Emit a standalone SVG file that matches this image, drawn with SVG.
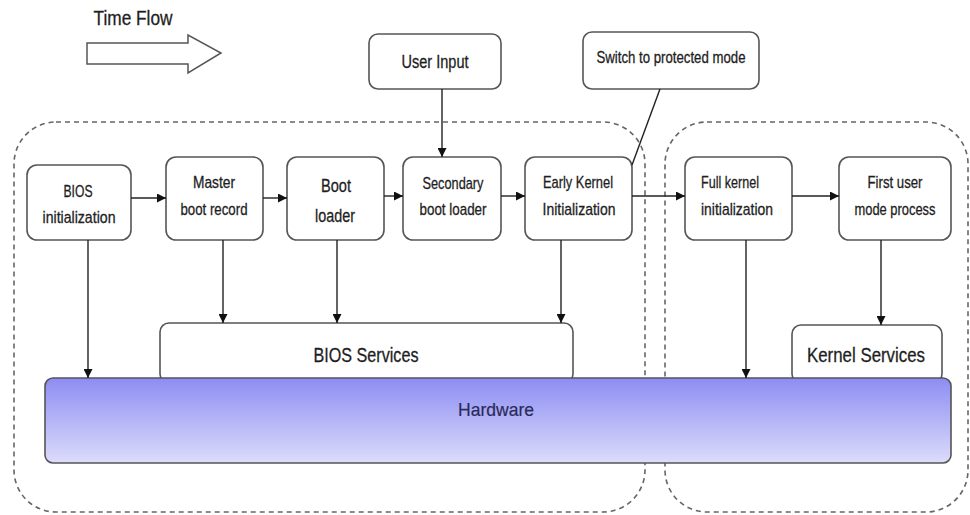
<svg xmlns="http://www.w3.org/2000/svg" width="970" height="515" viewBox="0 0 970 515">
<style>
.box{fill:#fff;stroke:#555;stroke-width:1.6}
.region{fill:none;stroke:#666;stroke-width:1.6;stroke-dasharray:5,4}
.t{font-family:"Liberation Sans",Arial,sans-serif;font-size:17px;fill:#1e1e1e;stroke:#1e1e1e;stroke-width:0.3;text-anchor:middle}
.s{text-anchor:start}
.big{font-size:21px}
.con{stroke:#222;stroke-width:1.4;fill:none}
</style>
<defs>
<marker id="ah" viewBox="0 0 10 10" refX="10" refY="5" markerWidth="9" markerHeight="9" markerUnits="userSpaceOnUse" orient="auto">
<path d="M0,0 L10,5 L0,10 z" fill="#111"/>
</marker>
<linearGradient id="hw" x1="0" y1="0" x2="0" y2="1">
<stop offset="0" stop-color="#8d8df3"/>
<stop offset="1" stop-color="#dcdcfb"/>
</linearGradient>
</defs>

<g id="time-flow">
<text class="t" x="133" y="25" style="font-size:21px" textLength="79" lengthAdjust="spacingAndGlyphs">Time Flow</text>
<path d="M87,43 H188 V35 L221,53 L188,73 V64 H87 Z" fill="#fff" stroke="#555" stroke-width="1.5"/>
</g>

<g id="regions">
<rect class="region" x="14" y="122" width="631" height="390" rx="42"/>
<rect class="region" x="665" y="122" width="303" height="390" rx="42"/>
</g>

<g id="user-input"><rect class="box" x="369" y="34" width="132" height="55" rx="9"/><text class="t" x="435" y="68" style="font-size:18px" textLength="67" lengthAdjust="spacingAndGlyphs">User Input</text></g>
<g id="switch-mode"><rect class="box" x="583" y="32" width="176" height="57" rx="9"/><text class="t" x="671" y="63" style="font-size:17px" textLength="149" lengthAdjust="spacingAndGlyphs">Switch to protected mode</text></g>

<g id="bios-init"><rect class="box" x="27" y="165" width="104" height="75" rx="10"/><text class="t" x="78" y="197" textLength="29" lengthAdjust="spacingAndGlyphs">BIOS</text><text class="t" x="79" y="223" textLength="73" lengthAdjust="spacingAndGlyphs">initialization</text></g>
<g id="mbr"><rect class="box" x="166" y="157" width="97" height="83" rx="10"/><text class="t" x="214" y="188" textLength="42" lengthAdjust="spacingAndGlyphs">Master</text><text class="t" x="214" y="215" textLength="67" lengthAdjust="spacingAndGlyphs">boot record</text></g>
<g id="boot-loader"><rect class="box" x="287" y="157" width="97" height="83" rx="10"/><text class="t" x="336" y="192" style="font-size:19px" textLength="30" lengthAdjust="spacingAndGlyphs">Boot</text><text class="t" x="335" y="222" style="font-size:19px" textLength="40" lengthAdjust="spacingAndGlyphs">loader</text></g>
<g id="secondary"><rect class="box" x="403" y="157" width="98" height="83" rx="10"/><text class="t" x="453" y="189" textLength="61" lengthAdjust="spacingAndGlyphs">Secondary</text><text class="t" x="453" y="215" textLength="67" lengthAdjust="spacingAndGlyphs">boot loader</text></g>
<g id="early-kernel"><rect class="box" x="525" y="157" width="107" height="83" rx="10"/><text class="t" x="578" y="188" textLength="70" lengthAdjust="spacingAndGlyphs">Early Kernel</text><text class="t" x="579" y="215" textLength="73" lengthAdjust="spacingAndGlyphs">Initialization</text></g>
<g id="full-kernel"><rect class="box" x="685" y="157" width="107" height="83" rx="10"/><text class="t s" x="701" y="188" textLength="58" lengthAdjust="spacingAndGlyphs">Full kernel</text><text class="t s" x="701" y="215" textLength="72" lengthAdjust="spacingAndGlyphs">initialization</text></g>
<g id="first-user"><rect class="box" x="839" y="157" width="112" height="83" rx="10"/><text class="t" x="895" y="188" textLength="55" lengthAdjust="spacingAndGlyphs">First user</text><text class="t" x="895" y="215" textLength="81" lengthAdjust="spacingAndGlyphs">mode process</text></g>

<g id="bios-services"><rect class="box" x="160" y="323" width="413" height="60" rx="9"/><text class="t big" x="366" y="362" textLength="105" lengthAdjust="spacingAndGlyphs">BIOS Services</text></g>
<g id="kernel-services"><rect class="box" x="792" y="325" width="150" height="58" rx="9"/><text class="t big" x="866" y="362" textLength="118" lengthAdjust="spacingAndGlyphs">Kernel Services</text></g>

<g id="hardware"><rect x="45" y="378" width="906" height="85" rx="8" fill="url(#hw)" stroke="#555" stroke-width="1.6"/><text class="t" x="496" y="416" style="font-size:19px;fill:#2a2a5a;stroke:#2a2a5a;stroke-width:0.2" textLength="76" lengthAdjust="spacingAndGlyphs">Hardware</text></g>

<g id="connectors">
<line class="con" x1="131" y1="198" x2="166" y2="198" marker-end="url(#ah)"/>
<line class="con" x1="263" y1="198" x2="287" y2="198" marker-end="url(#ah)"/>
<line class="con" x1="384" y1="196" x2="403" y2="196" marker-end="url(#ah)"/>
<line class="con" x1="501" y1="196" x2="525" y2="196" marker-end="url(#ah)"/>
<line class="con" x1="632" y1="196" x2="685" y2="196" marker-end="url(#ah)"/>
<line class="con" x1="792" y1="196" x2="839" y2="196" marker-end="url(#ah)"/>
<line class="con" x1="442" y1="89" x2="442" y2="157" marker-end="url(#ah)"/>
<line class="con" x1="660" y1="89" x2="632" y2="165"/>
<line class="con" x1="88" y1="240" x2="88" y2="378" marker-end="url(#ah)"/>
<line class="con" x1="223" y1="240" x2="223" y2="323" marker-end="url(#ah)"/>
<line class="con" x1="337" y1="240" x2="337" y2="323" marker-end="url(#ah)"/>
<line class="con" x1="561" y1="240" x2="561" y2="323" marker-end="url(#ah)"/>
<line class="con" x1="746" y1="240" x2="746" y2="378" marker-end="url(#ah)"/>
<line class="con" x1="881" y1="240" x2="881" y2="325" marker-end="url(#ah)"/>
</g>
</svg>
